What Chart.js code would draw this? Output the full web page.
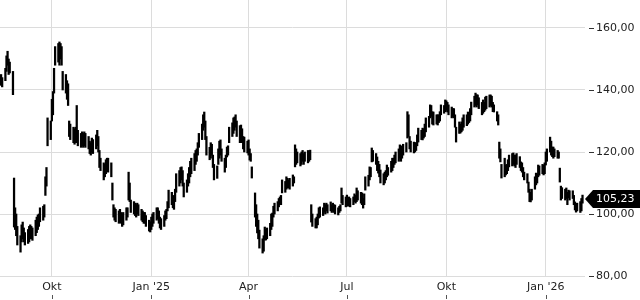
<!DOCTYPE html>
<html>
<head>
<meta charset="utf-8">
<script src="https://cdn.jsdelivr.net/npm/chart.js@4/dist/chart.umd.min.js"></script>
<style>
  html, body { margin: 0; padding: 0; background: #fff; }
  canvas { display: block; }
</style>
</head>
<body>
<canvas id="chart" width="640" height="300"></canvas>
<script>
// first trading day shown, bars follow on weekdays
const startDate = '2024-08-15';

// daily lows / highs, one row per 5 trading days
const lows = [
  141.5, 141, 143, 146, 148,
  145, 145.5, 138.5, 95.8, 95,
  93, 90, 87.7, 91, 92,
  91, 90, 90.5, 91, 92,
  92, 91.5, 93, 94, 95,
  96, 97.5, 98, 99, 106,
  109, 122, 124, 130, 132,
  139, 148, 149, 148, 150,
  148, 140, 139, 137, 135,
  125, 124, 123, 122.5, 123,
  123, 122, 121.5, 122, 121.5,
  122, 121.5, 121, 119.5, 119,
  120, 119.5, 121, 122, 120,
  115, 114, 111, 112, 113,
  114, 113.5, 112, 104.5, 99,
  98, 97.5, 97, 98, 97,
  96, 96.5, 98, 99, 104.5,
  104, 100.5, 100, 99.5, 99,
  100, 99.5, 98, 97.5, 97,
  97, 96, 94.5, 94.2, 95,
  96, 97, 98, 98.5, 97,
  95.5, 95, 96, 98, 98.5,
  101, 102, 103, 102, 101.5,
  104, 107, 109, 110, 111,
  109, 105.5, 107, 109, 110,
  112, 113, 114, 116, 117,
  119, 121.5, 124, 127, 128,
  124, 119, 117.5, 118, 119,
  115, 111, 111.5, 116, 118,
  119, 117, 113.5, 115, 118.4,
  119, 123, 125, 126, 127,
  128, 125, 123, 124, 123,
  121, 120, 119.7, 119, 117.4,
  117, 111.6, 99, 96, 93.9,
  92, 89, 87.4, 88, 91.6,
  91.6, 92, 93, 95, 96,
  99, 100, 101, 102.3, 103,
  103, 106.8, 107, 108, 108.4,
  108.4, 108, 109, 110, 115.2,
  116, 116.5, 115.5, 116, 117,
  116, 117, 116.5, 117, 117.5,
  97.4, 96, 95.5, 95.5, 96.5,
  98.7, 99, 99.5, 100.6, 100,
  101, 100.3, 101, 100.5, 101,
  100.5, 100, 99.7, 100.5, 101,
  103.5, 103, 102.3, 103, 102.5,
  103, 102.3, 103, 104, 103.5,
  104, 104.5, 103.5, 103, 101.9,
  103, 107.7, 109, 111, 112,
  116.8, 117, 116, 114, 113.2,
  112, 110, 109.4, 110, 111,
  112, 112.5, 113.5, 114, 115,
  116, 116.5, 117, 118, 117,
  118, 119, 120, 124.5, 125,
  121, 120, 119.7, 120, 120.5,
  122, 123.2, 124, 123.9, 124.5,
  125, 126.5, 128, 131, 131.5,
  129, 128.7, 129, 128.7, 129.5,
  130, 132, 132.5, 133, 133.5,
  132.9, 132, 131, 131.5, 131,
  128, 123.2, 126, 126.1, 126.5,
  127, 128, 128.5, 129, 129.5,
  130, 132, 134.5, 135, 134.5,
  135.2, 134, 132, 132.5, 133,
  133.5, 134, 134.5, 135, 134.5,
  133, 132.9, 130, 128.7, 118,
  116.8, 111.6, 112, 112.6, 113,
  114, 115.2, 115.5, 116, 115.5,
  115, 116, 115, 114, 113.5,
  112, 111, 110, 107, 104,
  103.9, 104.5, 108, 109.4, 110,
  112, 112.5, 113, 112.6, 113,
  115.8, 117, 120, 119, 118.5,
  118, 118.5, 118, 118, 110.3,
  104.5, 105, 104.5, 105, 103,
  105.2, 104.5, 105, 103, 101.3,
  100.6, 101, 100.5, 101, 103.5
];

const highs = [
  145, 144, 147, 151, 152.5,
  150, 149, 146, 111.6, 102,
  100, 96, 93, 96.5, 97.4,
  95.5, 94, 95, 96, 96.5,
  96, 95.5, 98, 99, 99.7,
  100, 102, 102.5, 103, 112,
  115, 131, 130, 137, 139.5,
  147, 154, 155, 155.5, 155,
  154, 146, 145, 143, 142,
  130, 129, 128, 127.5, 128,
  135, 127, 126, 126.5, 126,
  126.5, 126, 125, 123.5, 123,
  124.5, 124, 125.5, 127, 125,
  120.5, 118, 116.5, 116, 117.5,
  118, 118, 116.5, 110, 103,
  102, 101.5, 101, 101.5, 100.5,
  100, 100.5, 102, 102, 113.5,
  110, 104.5, 104, 103.5, 103,
  103.5, 103, 101.5, 101, 100.5,
  100.5, 99.5, 98, 97.5, 99,
  100, 100.5, 102, 102, 101,
  99, 98.5, 99.5, 101, 101.5,
  104, 107.7, 107, 106, 105.5,
  108, 113, 114, 115, 115.2,
  114, 110, 111, 113, 115,
  117, 118, 119.5, 120.5, 121,
  123, 126, 129, 132, 132.9,
  130, 125, 121.5, 123, 122.5,
  119, 116, 115.5, 121, 123.5,
  123.9, 121, 118, 119, 121.6,
  122, 128, 129.4, 131, 131.3,
  132, 130, 128.5, 128.7, 127.5,
  125, 124.8, 123.5, 123.9, 121,
  119.5, 115.2, 106.8, 103, 100,
  98, 94.8, 92, 93, 95.8,
  95, 95.5, 97, 100, 100.3,
  102.5, 103.5, 104, 105, 105.5,
  106, 111, 110.5, 112, 111.5,
  111, 111.5, 112.6, 112, 122.3,
  121, 120, 119.5, 120, 120.5,
  119.5, 120, 120.5, 120, 120.6,
  103, 100, 98.5, 99, 100,
  102, 102.3, 102, 103.5, 103,
  103.5, 103, 103.9, 103, 103.5,
  103, 102.9, 102, 102.5, 103,
  108.4, 106, 105.5, 106.1, 105,
  105.5, 105, 105.5, 106.5, 106,
  108.4, 107.5, 107, 106.8, 105,
  106.5, 112, 112.5, 115.2, 115,
  121.3, 120.5, 119.5, 118.4, 117,
  116, 114.2, 113, 113.5, 114,
  115.8, 115, 117, 118, 118,
  119, 120, 121, 122.3, 121.5,
  122, 122.5, 123, 133, 132,
  125, 123.5, 123.2, 123, 123,
  125.5, 127.7, 127, 127.7, 127.5,
  129, 131, 131.5, 135.2, 135,
  133, 132.9, 132, 132, 132,
  133, 135.2, 135, 136.8, 136.5,
  136, 135.2, 134.5, 134, 134,
  132, 128, 129.7, 129, 129.7,
  131, 132, 132, 132.9, 132.5,
  134, 136.1, 138, 139, 138.5,
  138.4, 137.5, 136, 136.8, 136,
  137.7, 138, 138.4, 138.4, 138,
  136, 135.2, 133, 132, 123.2,
  121, 116, 118, 115.8, 116,
  117.5, 119, 119.5, 119.7, 119,
  119, 119.5, 118.5, 116.8, 116.5,
  115, 113.5, 113, 110.3, 108,
  107, 108, 112, 113.2, 113,
  115.8, 115.5, 116, 115.8, 116.5,
  120, 121, 124.8, 123.5, 121.6,
  121.6, 121, 120.5, 120, 114.8,
  109, 108.5, 108, 108.4, 107,
  107.7, 107.5, 107.5, 106, 103.9,
  102.9, 103.5, 104, 105, 106.1
];

const lastPrice = 105.23;

const monthTickDates = ['2024-10-01', '2025-01-01', '2025-04-01', '2025-07-01', '2025-10-01', '2026-01-01'];
const monthTickLabels = ['Okt', "Jan '25", 'Apr', 'Jul', 'Okt', "Jan '26"];
const yTickValues = [80, 100, 120, 140, 160];

function dayNum(s) {
    return Date.parse(s + 'T00:00:00Z') / 864e5;
}

function fmt(v) {
    return v.toFixed(2).replace('.', ',');
}

// weekday dates for each bar
const barDays = [];
let d = dayNum(startDate);
while (barDays.length < lows.length) {
    const wd = new Date(d * 864e5).getUTCDay();
    if (wd !== 0 && wd !== 6) barDays.push(d);
    d++;
}

const bars = barDays.map((day, i) => ({ x: day, y: [lows[i], highs[i]] }));
const monthTicks = monthTickDates.map(dayNum);

const FONT = { family: 'DejaVu Sans', size: 11 };
const GRID = '#dcdcdc';
const TEXT = '#222';

// small dashes next to price labels, ticks under the month labels, last price tag
const extrasPlugin = {
    id: 'extras',
    afterDraw(chart) {
        const ctx = chart.ctx;
        const ys = chart.scales.y;
        const xs = chart.scales.x;
        const area = chart.chartArea;
        ctx.save();
        ctx.strokeStyle = '#333';
        ctx.lineWidth = 1;
        yTickValues.forEach(v => {
            const py = Math.round(ys.getPixelForValue(v)) + 0.5;
            ctx.beginPath();
            ctx.moveTo(area.right + 4, py);
            ctx.lineTo(area.right + 9, py);
            ctx.stroke();
        });
        ctx.strokeStyle = '#555';
        monthTicks.forEach(v => {
            const px = Math.round(xs.getPixelForValue(v)) + 0.5;
            ctx.beginPath();
            ctx.moveTo(px, 295);
            ctx.lineTo(px, 299);
            ctx.stroke();
        });

        const py = Math.round(ys.getPixelForValue(lastPrice)) + 1;
        const tip = area.right;
        ctx.fillStyle = '#000';
        ctx.beginPath();
        ctx.moveTo(tip, py);
        ctx.lineTo(tip + 8, py - 9);
        ctx.lineTo(chart.width, py - 9);
        ctx.lineTo(chart.width, py + 9);
        ctx.lineTo(tip + 8, py + 9);
        ctx.closePath();
        ctx.fill();
        ctx.fillStyle = '#fff';
        ctx.font = '11px "DejaVu Sans"';
        ctx.textAlign = 'left';
        ctx.textBaseline = 'middle';
        ctx.fillText(fmt(lastPrice), tip + 11, py);
        ctx.restore();
    }
};

new Chart(document.getElementById('chart').getContext('2d'), {
    type: 'bar',
    data: {
        datasets: [{
            data: bars,
            backgroundColor: '#000',
            borderWidth: 0,
            barThickness: 1.6,
            grouped: false
        }]
    },
    options: {
        responsive: false,
        animation: false,
        layout: { padding: 0 },
        plugins: {
            legend: { display: false },
            tooltip: { enabled: false }
        },
        scales: {
            x: {
                type: 'linear',
                offset: false,
                min: dayNum('2024-10-01') - 48,
                max: dayNum('2026-01-01') + 36.3,
                afterBuildTicks: s => { s.ticks = monthTicks.map(v => ({ value: v })); },
                afterFit: s => { s.height = 23; s.paddingLeft = 0; s.paddingRight = 0; },
                grid: { color: GRID, drawTicks: false, offset: false },
                border: { display: false },
                ticks: {
                    autoSkip: false,
                    maxRotation: 0,
                    padding: 4,
                    color: TEXT,
                    font: FONT,
                    callback: (v, i) => monthTickLabels[i]
                }
            },
            y: {
                position: 'right',
                min: 79.68,
                max: 169.03,
                afterBuildTicks: s => { s.ticks = yTickValues.map(v => ({ value: v })); },
                afterFit: s => { s.width = 55; s.paddingTop = 0; s.paddingBottom = 0; },
                grid: { color: GRID, drawTicks: false },
                border: { display: false },
                ticks: {
                    padding: 11,
                    color: TEXT,
                    font: FONT,
                    callback: v => fmt(v)
                }
            }
        }
    },
    plugins: [extrasPlugin]
});
</script>
</body>
</html>
